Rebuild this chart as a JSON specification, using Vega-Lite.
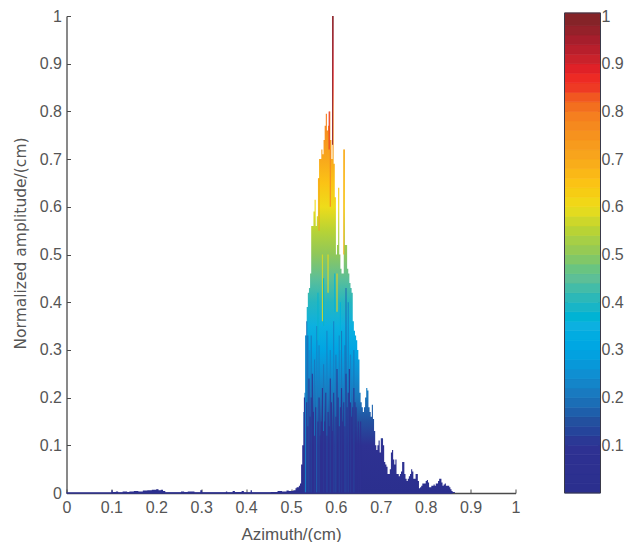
{"$schema":"https://vega.github.io/schema/vega-lite/v6.json","padding":{"left":12.5,"top":8,"right":0,"bottom":0},"background":"white","bounds":"flush","spacing":49,
"config":{"view":{"stroke":null},"axis":{"labelFont":"Liberation Sans","titleFont":"Liberation Sans","labelFontSize":16,"titleFontSize":17,"labelColor":"#555555","titleColor":"#555555","titleFontWeight":"normal","domainColor":"#4a4a4a","domainWidth":1.3,"tickColor":"#4a4a4a","grid":false}},
"datasets":{"env":[{"x":0,"v":0},{"x":0.1,"v":0.006},{"x":0.103,"v":0.002},{"x":0.11,"v":0.003},{"x":0.115,"v":0.001},{"x":0.125,"v":0.003},{"x":0.135,"v":0.002},{"x":0.14,"v":0.003},{"x":0.15,"v":0.004},{"x":0.16,"v":0.003},{"x":0.17,"v":0.005},{"x":0.18,"v":0.006},{"x":0.19,"v":0.007},{"x":0.2,"v":0.008},{"x":0.205,"v":0.006},{"x":0.21,"v":0.007},{"x":0.215,"v":0.004},{"x":0.22,"v":0.001},{"x":0.255,"v":0.003},{"x":0.262,"v":0.002},{"x":0.27,"v":0.003},{"x":0.285,"v":0.001},{"x":0.298,"v":0.006},{"x":0.302,"v":0.001},{"x":0.355,"v":0.003},{"x":0.358,"v":0.001},{"x":0.37,"v":0.004},{"x":0.375,"v":0.002},{"x":0.39,"v":0.004},{"x":0.395,"v":0.001},{"x":0.41,"v":0.006},{"x":0.413,"v":0.001},{"x":0.455,"v":0.002},{"x":0.47,"v":0.004},{"x":0.48,"v":0.003},{"x":0.49,"v":0.005},{"x":0.495,"v":0.004},{"x":0.5,"v":0.004},{"x":0.505,"v":0.006},{"x":0.51,"v":0.01},{"x":0.5125,"v":0.012},{"x":0.515,"v":0.012},{"x":0.5175,"v":0.015},{"x":0.52,"v":0.02},{"x":0.5225,"v":0.06},{"x":0.525,"v":0.1},{"x":0.5275,"v":0.17},{"x":0.53,"v":0.21},{"x":0.5325,"v":0.33},{"x":0.535,"v":0.39},{"x":0.5375,"v":0.42},{"x":0.54,"v":0.43},{"x":0.5425,"v":0.46},{"x":0.545,"v":0.56},{"x":0.5475,"v":0.56},{"x":0.55,"v":0.59},{"x":0.5525,"v":0.615},{"x":0.555,"v":0.56},{"x":0.5575,"v":0.58},{"x":0.56,"v":0.66},{"x":0.5625,"v":0.7},{"x":0.565,"v":0.7},{"x":0.5675,"v":0.72},{"x":0.57,"v":0.71},{"x":0.5725,"v":0.74},{"x":0.575,"v":0.77},{"x":0.5775,"v":0.795},{"x":0.58,"v":0.76},{"x":0.5825,"v":0.77},{"x":0.585,"v":0.8},{"x":0.5875,"v":0.74},{"x":0.59,"v":0.7},{"x":0.5925,"v":1},{"x":0.595,"v":0.69},{"x":0.5975,"v":0.62},{"x":0.6,"v":0.5},{"x":0.6025,"v":0.52},{"x":0.605,"v":0.64},{"x":0.6075,"v":0.5},{"x":0.61,"v":0.47},{"x":0.6125,"v":0.46},{"x":0.615,"v":0.46},{"x":0.6175,"v":0.72},{"x":0.62,"v":0.52},{"x":0.6225,"v":0.52},{"x":0.625,"v":0.47},{"x":0.6275,"v":0.46},{"x":0.63,"v":0.44},{"x":0.6325,"v":0.43},{"x":0.635,"v":0.42},{"x":0.6375,"v":0.36},{"x":0.64,"v":0.34},{"x":0.6425,"v":0.33},{"x":0.645,"v":0.32},{"x":0.6475,"v":0.3},{"x":0.65,"v":0.28},{"x":0.6525,"v":0.21},{"x":0.655,"v":0.19},{"x":0.6575,"v":0.18},{"x":0.66,"v":0.17},{"x":0.6625,"v":0.18},{"x":0.665,"v":0.2},{"x":0.6675,"v":0.22},{"x":0.67,"v":0.215},{"x":0.6725,"v":0.18},{"x":0.675,"v":0.17},{"x":0.6775,"v":0.16},{"x":0.68,"v":0.185},{"x":0.6825,"v":0.155},{"x":0.685,"v":0.13},{"x":0.6875,"v":0.1},{"x":0.69,"v":0.09},{"x":0.6925,"v":0.1},{"x":0.695,"v":0.11},{"x":0.6975,"v":0.085},{"x":0.7,"v":0.115},{"x":0.7025,"v":0.115},{"x":0.705,"v":0.1},{"x":0.7075,"v":0.065},{"x":0.71,"v":0.06},{"x":0.7125,"v":0.055},{"x":0.715,"v":0.04},{"x":0.7175,"v":0.04},{"x":0.72,"v":0.05},{"x":0.7225,"v":0.085},{"x":0.725,"v":0.09},{"x":0.7275,"v":0.07},{"x":0.73,"v":0.06},{"x":0.7325,"v":0.07},{"x":0.735,"v":0.04},{"x":0.7375,"v":0.04},{"x":0.74,"v":0.035},{"x":0.7425,"v":0.04},{"x":0.745,"v":0.045},{"x":0.7475,"v":0.065},{"x":0.75,"v":0.065},{"x":0.7525,"v":0.04},{"x":0.755,"v":0.03},{"x":0.7575,"v":0.025},{"x":0.76,"v":0.03},{"x":0.7625,"v":0.035},{"x":0.765,"v":0.04},{"x":0.7675,"v":0.05},{"x":0.77,"v":0.045},{"x":0.7725,"v":0.03},{"x":0.775,"v":0.03},{"x":0.7775,"v":0.04},{"x":0.78,"v":0.04},{"x":0.7825,"v":0.025},{"x":0.785,"v":0.01},{"x":0.7875,"v":0.012},{"x":0.79,"v":0.015},{"x":0.7925,"v":0.02},{"x":0.795,"v":0.02},{"x":0.7975,"v":0.02},{"x":0.8,"v":0.025},{"x":0.8025,"v":0.027},{"x":0.805,"v":0.022},{"x":0.8075,"v":0.012},{"x":0.81,"v":0.012},{"x":0.8125,"v":0.015},{"x":0.815,"v":0.015},{"x":0.8175,"v":0.018},{"x":0.82,"v":0.015},{"x":0.8225,"v":0.02},{"x":0.825,"v":0.02},{"x":0.8275,"v":0.025},{"x":0.83,"v":0.03},{"x":0.8325,"v":0.03},{"x":0.835,"v":0.022},{"x":0.8375,"v":0.015},{"x":0.84,"v":0.018},{"x":0.8425,"v":0.02},{"x":0.845,"v":0.015},{"x":0.8475,"v":0.015},{"x":0.85,"v":0.015},{"x":0.8525,"v":0.012},{"x":0.855,"v":0.008},{"x":0.8575,"v":0.004},{"x":0.86,"v":0.002},{"x":0.865,"v":0},{"x":1,"v":0}],
"spikes":[{"x":0.53,"lo":0,"hi":0.2,"c":0.22},{"x":0.5325,"lo":0,"hi":0.33,"c":0.24},{"x":0.535,"lo":0,"hi":0.36,"c":0.2},{"x":0.5375,"lo":0,"hi":0.33,"c":0.18},{"x":0.54,"lo":0,"hi":0.3,"c":0.22},{"x":0.545,"lo":0,"hi":0.33,"c":0.2},{"x":0.5525,"lo":0,"hi":0.28,"c":0.2},{"x":0.5575,"lo":0,"hi":0.35,"c":0.22},{"x":0.5625,"lo":0,"hi":0.31,"c":0.22},{"x":0.5725,"lo":0,"hi":0.27,"c":0.2},{"x":0.58,"lo":0,"hi":0.34,"c":0.22},{"x":0.5875,"lo":0,"hi":0.3,"c":0.22},{"x":0.595,"lo":0,"hi":0.36,"c":0.22},{"x":0.6,"lo":0,"hi":0.29,"c":0.2},{"x":0.6075,"lo":0,"hi":0.33,"c":0.22},{"x":0.6125,"lo":0,"hi":0.34,"c":0.2},{"x":0.62,"lo":0,"hi":0.31,"c":0.2},{"x":0.6225,"lo":0,"hi":0.43,"c":0.18},{"x":0.6275,"lo":0,"hi":0.4,"c":0.22},{"x":0.6325,"lo":0,"hi":0.29,"c":0.22},{"x":0.64,"lo":0,"hi":0.3,"c":0.2},{"x":0.53,"lo":0,"hi":0.2,"c":0.08},{"x":0.535,"lo":0,"hi":0.19,"c":0.08},{"x":0.5375,"lo":0,"hi":0.14,"c":0.08},{"x":0.54,"lo":0,"hi":0.24,"c":0.08},{"x":0.5425,"lo":0,"hi":0.16,"c":0.08},{"x":0.545,"lo":0,"hi":0.2,"c":0.08},{"x":0.5475,"lo":0,"hi":0.25,"c":0.08},{"x":0.55,"lo":0,"hi":0.17,"c":0.08},{"x":0.5525,"lo":0,"hi":0.12,"c":0.08},{"x":0.555,"lo":0,"hi":0.18,"c":0.08},{"x":0.56,"lo":0,"hi":0.15,"c":0.08},{"x":0.5625,"lo":0,"hi":0.2,"c":0.08},{"x":0.565,"lo":0,"hi":0.12,"c":0.08},{"x":0.5675,"lo":0,"hi":0.15,"c":0.08},{"x":0.57,"lo":0,"hi":0.22,"c":0.08},{"x":0.5725,"lo":0,"hi":0.13,"c":0.08},{"x":0.575,"lo":0,"hi":0.15,"c":0.08},{"x":0.5775,"lo":0,"hi":0.21,"c":0.08},{"x":0.58,"lo":0,"hi":0.12,"c":0.08},{"x":0.5825,"lo":0,"hi":0.17,"c":0.08},{"x":0.585,"lo":0,"hi":0.14,"c":0.08},{"x":0.5875,"lo":0,"hi":0.24,"c":0.08},{"x":0.59,"lo":0,"hi":0.19,"c":0.08},{"x":0.5925,"lo":0,"hi":0.13,"c":0.08},{"x":0.595,"lo":0,"hi":0.21,"c":0.08},{"x":0.6,"lo":0,"hi":0.16,"c":0.08},{"x":0.6025,"lo":0,"hi":0.26,"c":0.08},{"x":0.605,"lo":0,"hi":0.2,"c":0.08},{"x":0.6075,"lo":0,"hi":0.14,"c":0.08},{"x":0.61,"lo":0,"hi":0.18,"c":0.08},{"x":0.6125,"lo":0,"hi":0.22,"c":0.08},{"x":0.615,"lo":0,"hi":0.15,"c":0.08},{"x":0.6175,"lo":0,"hi":0.19,"c":0.08},{"x":0.62,"lo":0,"hi":0.14,"c":0.08},{"x":0.6225,"lo":0,"hi":0.25,"c":0.08},{"x":0.625,"lo":0,"hi":0.18,"c":0.08},{"x":0.6275,"lo":0,"hi":0.21,"c":0.08},{"x":0.63,"lo":0,"hi":0.26,"c":0.08},{"x":0.6325,"lo":0,"hi":0.19,"c":0.08},{"x":0.635,"lo":0,"hi":0.16,"c":0.08},{"x":0.6375,"lo":0,"hi":0.18,"c":0.08},{"x":0.64,"lo":0,"hi":0.22,"c":0.08},{"x":0.6425,"lo":0,"hi":0.19,"c":0.08},{"x":0.645,"lo":0,"hi":0.18,"c":0.08},{"x":0.65,"lo":0,"hi":0.15,"c":0.08},{"x":0.655,"lo":0,"hi":0.15,"c":0.08},{"x":0.56,"lo":0.32,"hi":0.42,"c":0.38},{"x":0.5725,"lo":0.35,"hi":0.45,"c":0.38},{"x":0.5975,"lo":0.38,"hi":0.46,"c":0.36},{"x":0.61,"lo":0.3,"hi":0.4,"c":0.36},{"x":0.57,"lo":0.36,"hi":0.5,"c":0.58},{"x":0.5825,"lo":0.42,"hi":0.5,"c":0.6},{"x":0.6025,"lo":0.38,"hi":0.46,"c":0.62},{"x":0.5625,"lo":0.55,"hi":0.66,"c":0.72},{"x":0.5875,"lo":0.6,"hi":0.72,"c":0.78},{"x":0.5925,"lo":0.73,"hi":1,"c":0.97},{"x":0.585,"lo":0.72,"hi":0.8,"c":0.86},{"x":0.6175,"lo":0.5,"hi":0.72,"c":0.68}],
"levels":[{"lo":0,"hi":0.02,"c":0.01,"a":0,"b":1},{"lo":0.02,"hi":0.04,"c":0.03,"a":0,"b":1},{"lo":0.04,"hi":0.06,"c":0.05,"a":0,"b":1},{"lo":0.06,"hi":0.08,"c":0.07,"a":0,"b":1},{"lo":0.08,"hi":0.1,"c":0.09,"a":0,"b":1},{"lo":0.1,"hi":0.12,"c":0.11,"a":0,"b":1},{"lo":0.12,"hi":0.14,"c":0.13,"a":0,"b":1},{"lo":0.14,"hi":0.16,"c":0.15,"a":0,"b":1},{"lo":0.16,"hi":0.18,"c":0.17,"a":0,"b":1},{"lo":0.18,"hi":0.2,"c":0.19,"a":0,"b":1},{"lo":0.2,"hi":0.22,"c":0.21,"a":0,"b":1},{"lo":0.22,"hi":0.24,"c":0.23,"a":0,"b":1},{"lo":0.24,"hi":0.26,"c":0.25,"a":0,"b":1},{"lo":0.26,"hi":0.28,"c":0.27,"a":0,"b":1},{"lo":0.28,"hi":0.3,"c":0.29,"a":0,"b":1},{"lo":0.3,"hi":0.32,"c":0.31,"a":0,"b":1},{"lo":0.32,"hi":0.34,"c":0.33,"a":0,"b":1},{"lo":0.34,"hi":0.36,"c":0.35,"a":0,"b":1},{"lo":0.36,"hi":0.38,"c":0.37,"a":0,"b":1},{"lo":0.38,"hi":0.4,"c":0.39,"a":0,"b":1},{"lo":0.4,"hi":0.42,"c":0.41,"a":0,"b":1},{"lo":0.42,"hi":0.44,"c":0.43,"a":0,"b":1},{"lo":0.44,"hi":0.46,"c":0.45,"a":0,"b":1},{"lo":0.46,"hi":0.48,"c":0.47,"a":0,"b":1},{"lo":0.48,"hi":0.5,"c":0.49,"a":0,"b":1},{"lo":0.5,"hi":0.52,"c":0.51,"a":0,"b":1},{"lo":0.52,"hi":0.54,"c":0.53,"a":0,"b":1},{"lo":0.54,"hi":0.56,"c":0.55,"a":0,"b":1},{"lo":0.56,"hi":0.58,"c":0.57,"a":0,"b":1},{"lo":0.58,"hi":0.6,"c":0.59,"a":0,"b":1},{"lo":0.6,"hi":0.62,"c":0.61,"a":0,"b":1},{"lo":0.62,"hi":0.64,"c":0.63,"a":0,"b":1},{"lo":0.64,"hi":0.66,"c":0.65,"a":0,"b":1},{"lo":0.66,"hi":0.68,"c":0.67,"a":0,"b":1},{"lo":0.68,"hi":0.7,"c":0.69,"a":0,"b":1},{"lo":0.7,"hi":0.72,"c":0.71,"a":0,"b":1},{"lo":0.72,"hi":0.74,"c":0.73,"a":0,"b":1},{"lo":0.74,"hi":0.76,"c":0.75,"a":0,"b":1},{"lo":0.76,"hi":0.78,"c":0.77,"a":0,"b":1},{"lo":0.78,"hi":0.8,"c":0.79,"a":0,"b":1},{"lo":0.8,"hi":0.82,"c":0.81,"a":0,"b":1},{"lo":0.82,"hi":0.84,"c":0.83,"a":0,"b":1},{"lo":0.84,"hi":0.86,"c":0.85,"a":0,"b":1},{"lo":0.86,"hi":0.88,"c":0.87,"a":0,"b":1},{"lo":0.88,"hi":0.9,"c":0.89,"a":0,"b":1},{"lo":0.9,"hi":0.92,"c":0.91,"a":0,"b":1},{"lo":0.92,"hi":0.94,"c":0.93,"a":0,"b":1},{"lo":0.94,"hi":0.96,"c":0.95,"a":0,"b":1},{"lo":0.96,"hi":0.98,"c":0.97,"a":0,"b":1},{"lo":0.98,"hi":1.0063,"c":0.99,"a":0,"b":1}]},
"hconcat":[
{"width":449,"height":477,"layer":[
{"data":{"name":"env"},"mark":{"type":"area","interpolate":"step-after","color":{"gradient":"linear","x1":0,"y1":1,"x2":0,"y2":0,"stops":[{"offset":0,"color":"#2b2f8e"},{"offset":0.1,"color":"#2e3192"},{"offset":0.15,"color":"#23509f"},{"offset":0.2,"color":"#1b75bb"},{"offset":0.25,"color":"#0f8fd2"},{"offset":0.3,"color":"#00a5e3"},{"offset":0.35,"color":"#0cb0e0"},{"offset":0.4,"color":"#25b6c0"},{"offset":0.45,"color":"#5dbf97"},{"offset":0.5,"color":"#8fc75a"},{"offset":0.55,"color":"#b8d335"},{"offset":0.6,"color":"#eedc1a"},{"offset":0.65,"color":"#fbc315"},{"offset":0.7,"color":"#f8a81c"},{"offset":0.75,"color":"#f6921e"},{"offset":0.8,"color":"#f47a20"},{"offset":0.85,"color":"#ee3a24"},{"offset":0.88,"color":"#ed2024"},{"offset":0.9,"color":"#d2232a"},{"offset":0.95,"color":"#a61e2c"},{"offset":1,"color":"#7d2427"}]}},
"encoding":{"x":{"field":"x","type":"quantitative","scale":{"domain":[0,1],"nice":false},"axis":{"title":"Azimuth/(cm)","values":[0,0.1,0.2,0.3,0.4,0.5,0.6,0.7,0.8,0.9,1],"format":"~g","tickSize":-4,"labelPadding":10,"labelFlush":false,"titlePadding":11}},"y":{"field":"v","type":"quantitative","scale":{"domain":[0,1],"nice":false},"axis":{"title":"Normalized amplitude/(cm)","titleFont":"DejaVu Sans","titleFontSize":15.5,"titleY":227,"values":[0,0.1,0.2,0.3,0.4,0.5,0.6,0.7,0.8,0.9,1],"format":"~g","tickSize":-4,"labelPadding":9,"titlePadding":11,"labelFlush":false}}}},
{"data":{"name":"spikes"},"mark":{"type":"rule","strokeWidth":1.1,"opacity":0.9},"encoding":{"x":{"field":"x","type":"quantitative"},"y":{"field":"hi","type":"quantitative"},"y2":{"field":"lo"},"color":{"field":"c","type":"quantitative","legend":null,"scale":{"domain":[0,0.1,0.15,0.2,0.25,0.3,0.35,0.4,0.45,0.5,0.55,0.6,0.65,0.7,0.75,0.8,0.85,0.88,0.9,0.95,1],"range":["#2b2f8e","#2e3192","#23509f","#1b75bb","#0f8fd2","#00a5e3","#0cb0e0","#25b6c0","#5dbf97","#8fc75a","#b8d335","#eedc1a","#fbc315","#f8a81c","#f6921e","#f47a20","#ee3a24","#ed2024","#d2232a","#a61e2c","#7d2427"]}}}},
{"data":{"values":[{"a":0,"b":0.86,"z":0}]},"mark":{"type":"rule","color":"#2e3192","strokeWidth":1.5},"encoding":{"x":{"field":"a","type":"quantitative"},"x2":{"field":"b"},"y":{"field":"z","type":"quantitative"}}}
]},
{"width":36,"height":477,"data":{"name":"levels"},"layer":[
{"mark":{"type":"rect","strokeWidth":0.7},"encoding":{"x":{"field":"a","type":"quantitative","scale":{"domain":[0,1],"nice":false},"axis":null},"x2":{"field":"b"},"y":{"field":"lo","type":"quantitative","scale":{"domain":[0,1],"nice":false},"axis":{"orient":"left","title":null,"labels":false,"domain":false,"values":[0.1,0.2,0.3,0.4,0.5,0.6,0.7,0.8,0.9,1],"tickSize":-3,"tickColor":"#444444"}},"y2":{"field":"hi"},"color":{"field":"c","type":"quantitative","legend":null,"scale":{"domain":[0,0.1,0.15,0.2,0.25,0.3,0.35,0.4,0.45,0.5,0.55,0.6,0.65,0.7,0.75,0.8,0.85,0.88,0.9,0.95,1],"range":["#2b2f8e","#2e3192","#23509f","#1b75bb","#0f8fd2","#00a5e3","#0cb0e0","#25b6c0","#5dbf97","#8fc75a","#b8d335","#eedc1a","#fbc315","#f8a81c","#f6921e","#f47a20","#ee3a24","#ed2024","#d2232a","#a61e2c","#7d2427"]}},"stroke":{"field":"c","type":"quantitative","legend":null,"scale":{"domain":[0,0.1,0.15,0.2,0.25,0.3,0.35,0.4,0.45,0.5,0.55,0.6,0.65,0.7,0.75,0.8,0.85,0.88,0.9,0.95,1],"range":["#2b2f8e","#2e3192","#23509f","#1b75bb","#0f8fd2","#00a5e3","#0cb0e0","#25b6c0","#5dbf97","#8fc75a","#b8d335","#eedc1a","#fbc315","#f8a81c","#f6921e","#f47a20","#ee3a24","#ed2024","#d2232a","#a61e2c","#7d2427"]}}}},
{"data":{"values":[{"lo":0,"hi":1.0063,"a":0,"b":1}]},"mark":{"type":"rect","fillOpacity":0,"stroke":"#3a3a4a","strokeWidth":1},"encoding":{"x":{"field":"a","type":"quantitative"},"x2":{"field":"b"},"y":{"field":"lo","type":"quantitative","axis":{"orient":"right","title":null,"domain":false,"values":[0.1,0.2,0.3,0.4,0.5,0.6,0.7,0.8,0.9,1],"format":"~g","tickSize":-3,"tickColor":"#444444","labelPadding":3.5,"labelFlush":false}},"y2":{"field":"hi"}}}
],"resolve":{"axis":{"y":"independent"}}}
],
"resolve":{"scale":{"color":"independent"}}}
